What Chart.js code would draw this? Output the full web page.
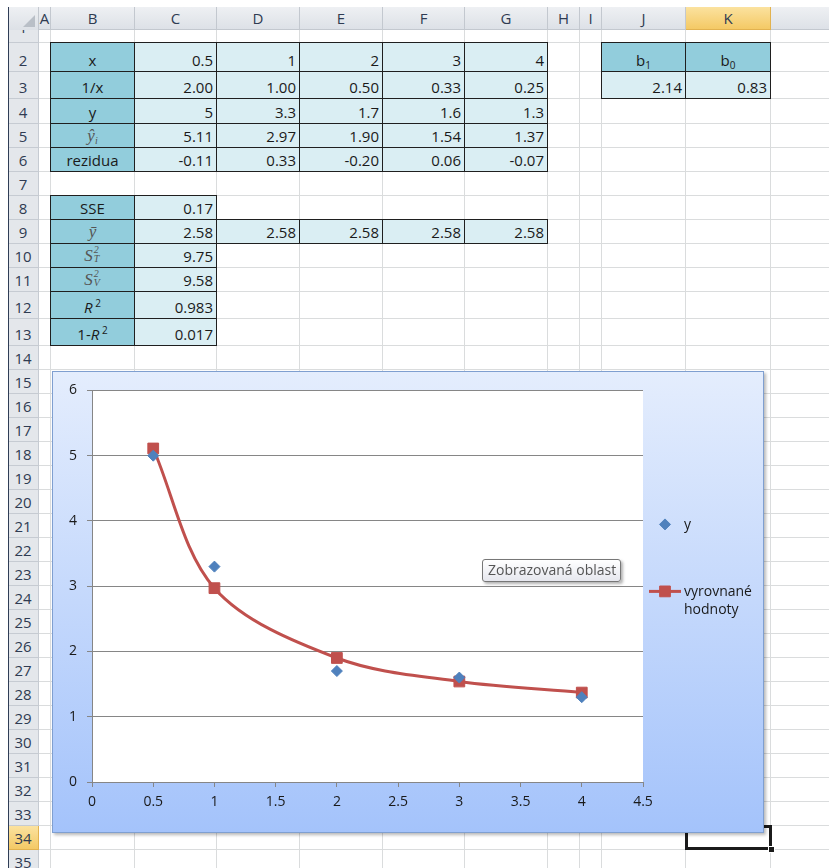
<!DOCTYPE html>
<html>
<head>
<meta charset="utf-8">
<title>Regrese 1/x</title>
<script src="https://cdn.jsdelivr.net/npm/chart.js@4/dist/chart.umd.min.js"></script>
<style>
  html, body { margin: 0; padding: 0; background: #fff; }
  body { width: 829px; height: 868px; overflow: hidden; position: relative;
         font-family: "Open Sans", "Noto Sans", sans-serif; }
  .abs { position: absolute; box-sizing: border-box; }
  .vline { position: absolute; width: 1px; background: #dadcdd; }
  .hline { position: absolute; height: 1px; background: #dadcdd; }
  .colhead { position: absolute; box-sizing: border-box; background: linear-gradient(#eef0f3, #dde1e7);
             border-right: 1px solid #c3c8cf; color: #2f3b52; font-size: 15px; text-align: center;
             line-height: 23px; overflow: hidden; }
  .rowhead { position: absolute; box-sizing: border-box; background: #e4e7eb;
             border-bottom: 1px solid #c6cbd2; color: #2f3b52; font-size: 15px; text-align: center;
             overflow: hidden; display: flex; align-items: flex-end; justify-content: center; }
  .rowhead > span { line-height: 20px; padding-bottom: 1px; }
  .sel { background: linear-gradient(#fbe29f, #f4c965) !important; border-color: #e2b24f !important; }
  .cell { position: absolute; box-sizing: border-box; border: 1px solid #1f1f1f; font-size: 15px;
          color: #1a1a1a; display: flex; align-items: flex-end; overflow: hidden; }
  .cell > span { line-height: 20px; padding-bottom: 1px; white-space: nowrap; }
  .hd { background: #92cddc; justify-content: center; }
  .val { background: #daeef3; justify-content: flex-end; padding-right: 3px; }
  .math { font-family: "Liberation Serif", "DejaVu Serif", serif; font-style: italic; color: #555; font-size: 17px; }
  .st { display: inline-block; position: relative; width: 8px; height: 10px; }
  .st > b { position: absolute; left: 1px; font-weight: normal; font-size: 10px; line-height: 10px; }
  .st > b.up { top: -6px; }
  .st > b.dn { top: 3px; }
  .rit { font-style: italic; }
  sup.s { font-size: 10px; vertical-align: 6px; line-height: 0; }
  sub.s { font-size: 10px; vertical-align: -3px; line-height: 0; }
  #chartBox { position: absolute; left: 52px; top: 371px; width: 712px; height: 462px; box-sizing: border-box;
              border: 1px solid #7f9fd0; background: linear-gradient(#e4edfd, #a4c3fb);
              box-shadow: 2px 2px 3px rgba(0,0,0,0.28); z-index: 5; }
  #chartBox canvas { display: block; }
  #tip { position: absolute; left: 482px; top: 559px; width: 139px; height: 23px; box-sizing: border-box;
         border: 1px solid #777; border-radius: 3px; background: linear-gradient(#ffffff, #e6e7ee);
         box-shadow: 2px 2px 3px rgba(0,0,0,0.3); color: #555; font-size: 14px; line-height: 20px;
         padding-left: 5px; white-space: nowrap; z-index: 7; }
</style>
</head>
<body>
<div id="sheet"></div>
<div id="chartBox"><canvas id="chart" width="710" height="460"></canvas></div>
<div id="tip">Zobrazovaná oblast</div>
<script>
// ---- data ----
const xValues      = [0.5, 1, 2, 3, 4];
const invXLabels   = ['2.00', '1.00', '0.50', '0.33', '0.25'];
const yValues      = [5, 3.3, 1.7, 1.6, 1.3];
const fittedValues = [5.11, 2.97, 1.90, 1.54, 1.37];
const residuals    = [-0.11, 0.33, -0.20, 0.06, -0.07];
const coefB1 = 2.14;
const coefB0 = 0.83;
const sse = 0.17;
const meanY = 2.58;
const totalVar = 9.75;
const explainedVar = 9.58;
const rSquared = 0.983;
const oneMinusR2 = 0.017;
const seriesNames = ['y', 'vyrovnané hodnoty'];
const xTickStep = 0.5;
const yTickStep = 1;

// ---- sheet layout ----
const colLetters = ['A','B','C','D','E','F','G','H','I','J','K','L'];
const colEdges = [39, 51, 135, 217, 300, 383, 465, 548, 580, 602, 686, 771, 900];
const rowEdges = [30, 43, 72, 99, 124, 148, 172, 196, 220, 244, 268, 292, 319, 346, 370];
while (rowEdges.length < 37) rowEdges.push(rowEdges[rowEdges.length - 1] + 24);
const headTop = 7, headBottom = 30, rowHeadLeft = 8, rowHeadRight = 39;
const activeCol = 'K', activeRow = 34;

const sheet = document.getElementById('sheet');
function add(cls, style, html) {
  const d = document.createElement('div');
  d.className = cls;
  Object.assign(d.style, style);
  if (html !== undefined) d.innerHTML = html;
  sheet.appendChild(d);
  return d;
}

// gridlines
colEdges.forEach(x => add('vline', { left: (x - 1) + 'px', top: headBottom + 'px', height: '860px' }));
rowEdges.forEach(y => add('hline', { left: rowHeadRight + 'px', top: (y - 1) + 'px', width: '800px' }));

// column headers
add('colhead', { left: rowHeadLeft + 'px', top: headTop + 'px', width: (rowHeadRight - rowHeadLeft) + 'px',
                 height: (headBottom - headTop) + 'px' },
    '<div style="position:absolute;right:3px;bottom:3px;width:0;height:0;border-left:12px solid transparent;border-bottom:12px solid #b9bfc7"></div>');
colLetters.forEach((c, i) => {
  const d = add('colhead', { left: colEdges[i] + 'px', top: headTop + 'px',
                             width: (colEdges[i + 1] - colEdges[i]) + 'px', height: (headBottom - headTop) + 'px',
                             borderBottom: '1px solid #c3c8cf' }, c);
  if (c === activeCol) d.classList.add('sel');
});
// row headers
for (let r = 1; r <= 35; r++) {
  const y0 = rowEdges[r - 1], y1 = rowEdges[r];
  const d = add('rowhead', { left: rowHeadLeft + 'px', top: y0 + 'px', width: (rowHeadRight - rowHeadLeft) + 'px',
                             height: (y1 - y0) + 'px', borderRight: '1px solid #c6cbd2' },
                '<span>' + r + '</span>');
  if (r === 1) { d.style.alignItems = 'flex-start'; d.firstChild.style.marginTop = '-13px'; }
  if (r === activeRow) d.classList.add('sel');
}
add('abs', { left: rowHeadLeft + 'px', top: headTop + 'px', width: '1px', height: '861px', background: '#2f3d56' });

// bordered cells
function cell(col, row, html, kind) {
  const i = colLetters.indexOf(col);
  const x0 = colEdges[i], x1 = colEdges[i + 1], y0 = rowEdges[row - 1], y1 = rowEdges[row];
  add('cell ' + kind, { left: (x0 - 1) + 'px', top: (y0 - 1) + 'px', width: (x1 - x0 + 1) + 'px',
                        height: (y1 - y0 + 1) + 'px' }, '<span>' + html + '</span>');
}
const dataCols = ['C','D','E','F','G'];
const fmt2 = v => v.toFixed(2);
const varSymbol = idx => '<span class="math">S<span class="st"><b class="up">2</b><b class="dn">' + idx + '</b></span></span>';
cell('B', 2, 'x', 'hd');
cell('B', 3, '1/x', 'hd');
cell('B', 4, 'y', 'hd');
cell('B', 5, '<span class="math">ŷ<sub class="s">i</sub></span>', 'hd');
cell('B', 6, 'rezidua', 'hd');
dataCols.forEach((c, k) => {
  cell(c, 2, String(xValues[k]), 'val');
  cell(c, 3, invXLabels[k], 'val');
  cell(c, 4, String(yValues[k]), 'val');
  cell(c, 5, fmt2(fittedValues[k]), 'val');
  cell(c, 6, fmt2(residuals[k]), 'val');
});
cell('B', 8, 'SSE', 'hd');
cell('C', 8, fmt2(sse), 'val');
cell('B', 9, '<span class="math">ȳ</span>', 'hd');
dataCols.forEach(c => cell(c, 9, fmt2(meanY), 'val'));
cell('B', 10, varSymbol('T'), 'hd');
cell('C', 10, fmt2(totalVar), 'val');
cell('B', 11, varSymbol('V'), 'hd');
cell('C', 11, fmt2(explainedVar), 'val');
cell('B', 12, '<span class="rit">R</span><sup class="s"> 2</sup>', 'hd');
cell('C', 12, rSquared.toFixed(3), 'val');
cell('B', 13, '1-<span class="rit">R</span><sup class="s"> 2</sup>', 'hd');
cell('C', 13, oneMinusR2.toFixed(3), 'val');
cell('J', 2, 'b<sub class="s">1</sub>', 'hd');
cell('K', 2, 'b<sub class="s">0</sub>', 'hd');
cell('J', 3, fmt2(coefB1), 'val');
cell('K', 3, fmt2(coefB0), 'val');

// active cell outline with fill handle
(function () {
  const i = colLetters.indexOf(activeCol);
  const x0 = colEdges[i], x1 = colEdges[i + 1], y0 = rowEdges[activeRow - 1], y1 = rowEdges[activeRow];
  add('abs', { left: (x0 - 1) + 'px', top: (y0 - 1) + 'px', width: (x1 - x0 + 2) + 'px', height: (y1 - y0 + 1) + 'px',
               border: '3px solid #1b1b1b' });
  add('abs', { left: (x1 - 3) + 'px', top: (y1 - 4) + 'px', width: '7px', height: '7px', background: '#1b1b1b',
               border: '1px solid #fff' });
})();

// ---- chart ----
const BLUE = '#4f81bd', RED = '#c0504d', AXIS = '#868686';
const FONT = { family: '"Open Sans", "Noto Sans", sans-serif', size: 14 };
const plainNumber = v => String(Math.round(v * 100) / 100);

const plotBackground = {
  id: 'plotBackground',
  beforeDraw(chart) {
    const { ctx, chartArea: a } = chart;
    ctx.save();
    ctx.fillStyle = '#ffffff';
    ctx.fillRect(a.left, a.top, a.right - a.left, a.bottom - a.top);
    ctx.restore();
  }
};

// legend to the right of the plot, one row per series, long names wrapped per word
const sideLegend = {
  id: 'sideLegend',
  afterDraw(chart) {
    const { ctx, chartArea: a } = chart;
    const mx = a.right + 22, tx = a.right + 41;
    const rows = [a.top + 134, a.top + 201];
    ctx.save();
    ctx.font = FONT.size + 'px ' + FONT.family;
    ctx.textBaseline = 'middle';
    ctx.textAlign = 'left';
    chart.data.datasets.forEach((ds, i) => {
      const y = rows[i];
      if (ds.showLine) {
        ctx.strokeStyle = ds.borderColor;
        ctx.lineWidth = ds.borderWidth;
        ctx.beginPath(); ctx.moveTo(mx - 16, y); ctx.lineTo(mx + 16, y); ctx.stroke();
      }
      ctx.fillStyle = ds.pointBackgroundColor;
      ctx.strokeStyle = ds.pointBorderColor;
      ctx.lineWidth = 1;
      Chart.helpers.drawPoint(ctx, { pointStyle: ds.pointStyle, radius: ds.pointRadius, rotation: 0, borderWidth: 1 }, mx, y);
      ctx.fillStyle = '#1a1a1a';
      ds.label.split(' ').forEach((w, k) => ctx.fillText(w, tx, y + 1 + k * 18));
    });
    ctx.restore();
  }
};

new Chart(document.getElementById('chart'), {
  type: 'scatter',
  data: {
    datasets: [
      {
        label: seriesNames[0],
        data: xValues.map((x, i) => ({ x, y: yValues[i] })),
        pointStyle: 'rectRot', pointRadius: 5.5,
        pointBackgroundColor: BLUE, pointBorderColor: BLUE, pointBorderWidth: 1,
        showLine: false
      },
      {
        label: seriesNames[1],
        data: xValues.map((x, i) => ({ x, y: fittedValues[i] })),
        pointStyle: 'rect', pointRadius: 7.6,
        pointBackgroundColor: RED, pointBorderColor: RED, pointBorderWidth: 1,
        showLine: true, borderColor: RED, borderWidth: 3, tension: 0.33
      }
    ]
  },
  options: {
    responsive: false,
    animation: false,
    events: [],
    layout: { padding: { left: 0, top: 16, right: 120, bottom: 0 } },
    plugins: { legend: { display: false }, tooltip: { enabled: false } },
    scales: {
      x: {
        type: 'linear', min: 0, max: 4.5,
        ticks: { stepSize: xTickStep, color: '#1a1a1a', font: FONT, padding: 7, maxRotation: 0, callback: plainNumber },
        grid: { drawOnChartArea: false, drawTicks: true, tickLength: 5, color: AXIS },
        border: { display: true, color: AXIS, width: 1 },
        afterFit(s) { s.height = 50; }
      },
      y: {
        type: 'linear', min: 0, max: 6,
        ticks: { stepSize: yTickStep, color: '#1a1a1a', font: FONT, padding: 10, callback: plainNumber },
        grid: { drawTicks: true, tickLength: 5, color: AXIS, lineWidth: 1 },
        border: { display: true, color: AXIS, width: 1 },
        afterFit(s) { s.width = 39; }
      }
    }
  },
  plugins: [plotBackground, sideLegend]
});
</script>
</body>
</html>
